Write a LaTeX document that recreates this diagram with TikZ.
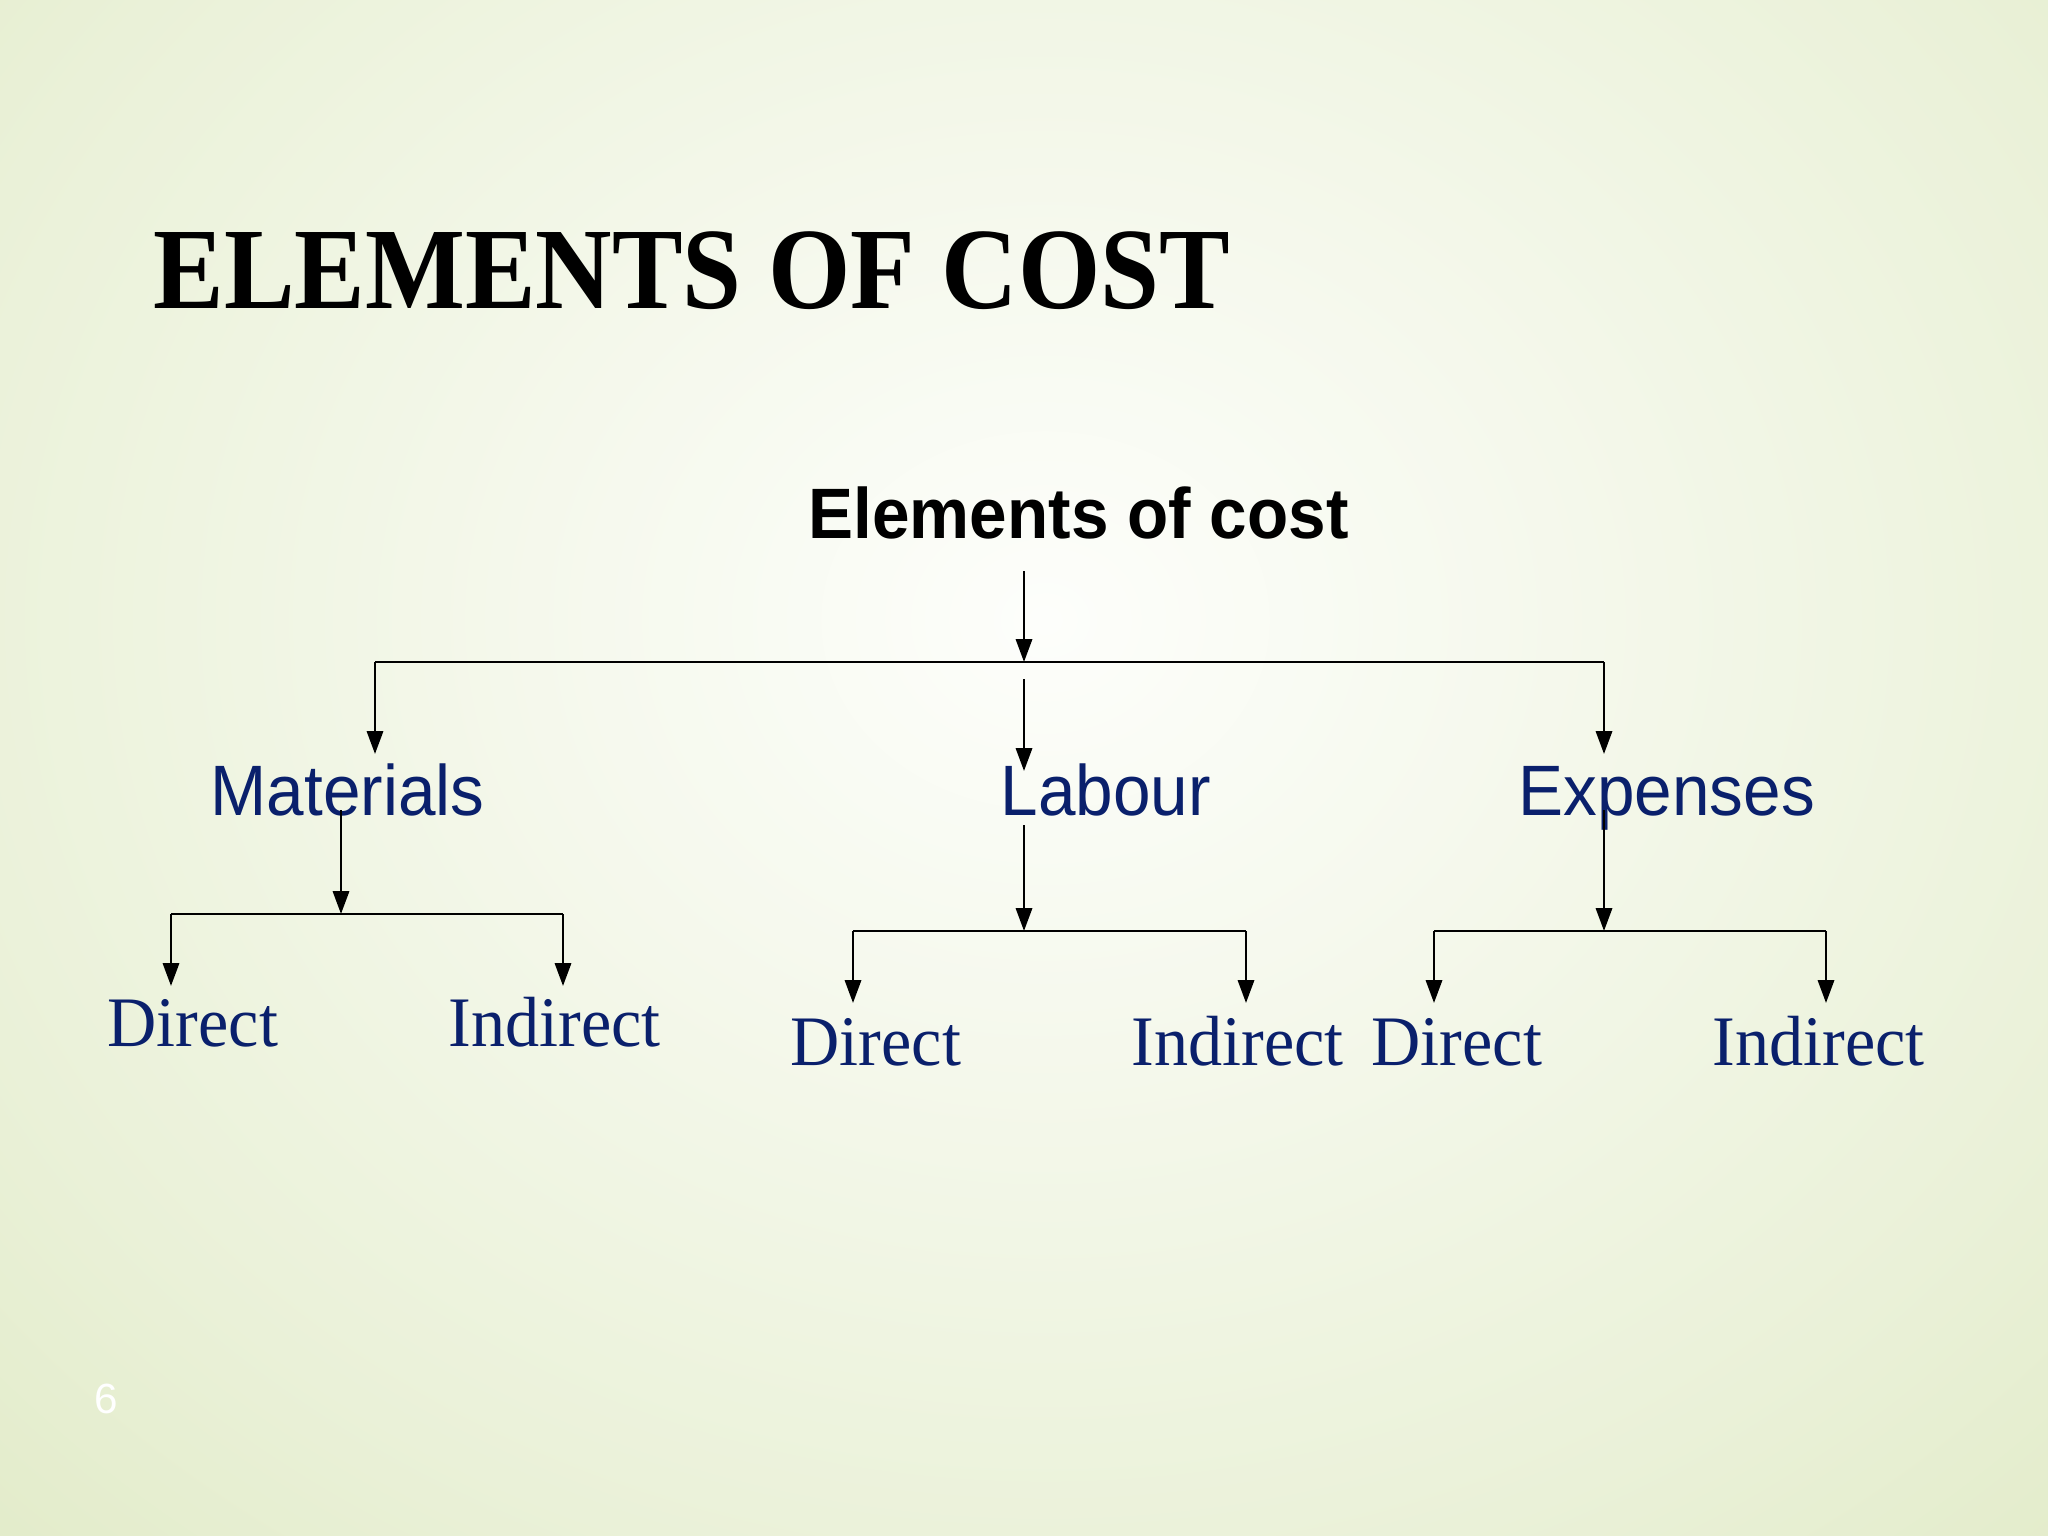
\documentclass[tikz,border=0pt]{standalone}
\usepackage{fontspec}
\setmainfont{Liberation Serif}
\newfontfamily\arialf{Liberation Sans}
\usetikzlibrary{arrows.meta}
\definecolor{navy}{RGB}{10,32,108}
\definecolor{bgA}{RGB}{253,254,251}
\definecolor{bgB}{RGB}{246,249,238}
\definecolor{bgC}{RGB}{234,241,216}
\definecolor{bgD}{RGB}{216,228,182}
\definecolor{bgE}{RGB}{202,217,152}
\pgfdeclareradialshading{bgshade}{\pgfpoint{0bp}{0bp}}{color(0bp)=(bgA); color(7bp)=(bgB); color(18bp)=(bgC); color(32bp)=(bgD); color(50bp)=(bgE)}
\newcommand{\cx}[1]{\scalebox{0.945}[1]{#1}}
\tikzset{
  titlest/.style={anchor=base west, inner sep=0pt, font=\fontsize{33}{33}\selectfont\bfseries, text=black},
  rootst/.style={anchor=base west, inner sep=0pt, font=\arialf\bfseries\fontsize{20.3}{20.3}\selectfont, text=black},
  midst/.style={anchor=base west, inner sep=0pt, font=\arialf\fontsize{20.3}{20.3}\selectfont, text=navy},
  leafst/.style={anchor=base west, inner sep=0pt, font=\fontsize{20.2}{20.2}\selectfont, text=navy},
  pgst/.style={anchor=base west, inner sep=0pt, font=\arialf\fontsize{12}{12}\selectfont, text=white},
  ln/.style={line width=0.75pt, draw=black},
  arr/.style={ln, -{Triangle[length=6.5pt,width=4.6pt]}}
}
\begin{document}
\begin{tikzpicture}[x=0.01cm,y=-0.01cm]
\useasboundingbox (0,0) rectangle (2048,1536);
\begin{scope}
\clip (0,0) rectangle (2048,1536);
\shade[shading=bgshade] (1045,620) ellipse [x radius=16cm, y radius=13.5cm];
\end{scope}

% texts
\node[titlest] (title) at (153,308) {\scalebox{0.912}[1]{ELEMENTS OF COST}};
\node[rootst] (root) at (808,538) {\cx{Elements of cost}};
\node[midst] (mat) at (210,815) {\cx{Materials}};
\node[midst] (lab) at (1000,815) {\cx{Labour}};
\node[midst] (exp) at (1518,815) {\cx{Expenses}};
\node[leafst] (md) at (107,1046) {\scalebox{0.96}[1]{Direct}};
\node[leafst] (mi) at (448,1046) {\scalebox{0.96}[1]{Indirect}};
\node[leafst] (ld) at (790,1065) {\scalebox{0.96}[1]{Direct}};
\node[leafst] (li) at (1131,1065) {\scalebox{0.96}[1]{Indirect}};
\node[leafst] (ed) at (1371,1065) {\scalebox{0.96}[1]{Direct}};
\node[leafst] (ei) at (1712,1065) {\scalebox{0.96}[1]{Indirect}};
\node[pgst] (pgnum) at (94,1413) {6};

% coordinates
\coordinate (rootout) at (1024,571);
\coordinate (hub) at (1024,662);
\coordinate (hL) at (375,662);
\coordinate (hR) at (1604,662);
\coordinate (matin) at (375,754);
\coordinate (expin) at (1604,754);
\coordinate (labstart) at (1024,679);
\coordinate (labin) at (1024,771);

\coordinate (matout) at (341,810);
\coordinate (mhub) at (341,914);
\coordinate (mL) at (171,914);
\coordinate (mR) at (563,914);
\coordinate (mdin) at (171,986);
\coordinate (miin) at (563,986);

\coordinate (labout) at (1024,825);
\coordinate (lhub) at (1024,931);
\coordinate (lL) at (853,931);
\coordinate (lR) at (1246,931);
\coordinate (ldin) at (853,1003);
\coordinate (liin) at (1246,1003);

\coordinate (expout) at (1604,810);
\coordinate (ehub) at (1604,931);
\coordinate (eL) at (1434,931);
\coordinate (eR) at (1826,931);
\coordinate (edin) at (1434,1003);
\coordinate (eiin) at (1826,1003);

% connectors
\draw[arr] (rootout) -- (hub);
\draw[ln] (hL) -- (hR);
\draw[arr] (hL) -- (matin);
\draw[arr] (hR) -- (expin);
\draw[arr] (labstart) -- (labin);

\draw[arr] (matout) -- (mhub);
\draw[ln] (mL) -- (mR);
\draw[arr] (mL) -- (mdin);
\draw[arr] (mR) -- (miin);

\draw[arr] (labout) -- (lhub);
\draw[ln] (lL) -- (lR);
\draw[arr] (lL) -- (ldin);
\draw[arr] (lR) -- (liin);

\draw[arr] (expout) -- (ehub);
\draw[ln] (eL) -- (eR);
\draw[arr] (eL) -- (edin);
\draw[arr] (eR) -- (eiin);
\end{tikzpicture}
\end{document}
